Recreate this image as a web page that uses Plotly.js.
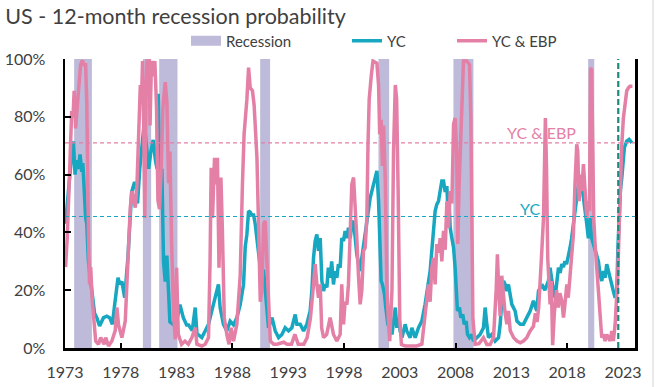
<!DOCTYPE html>
<html>
<head>
<meta charset="utf-8">
<script src="https://cdn.plot.ly/plotly-3.0.1.min.js"></script>
<style>html,body{margin:0;padding:0;background:#fff;}#chart{width:655px;height:387px;}</style>
</head>
<body>
<div id="chart"></div>
<script>
// ---- Data ----
const recessionStart = [1973.82, 1979.98, 1981.44, 1990.49, 2001.09, 2007.81, 2019.88];
const recessionEnd   = [1975.41, 1980.72, 1983.08, 1991.38, 2002.05, 2009.60, 2020.43];

const ycYears = [1973.05,1973.2,1973.4,1973.6,1973.75,1973.9,1974.05,1974.2,1974.35,1974.5,1974.6,1974.7,1974.85,1974.95,1975.1,1975.4,1975.65,1975.85,1976.1,1976.45,1976.75,1977.0,1977.25,1977.45,1977.75,1977.9,1978.1,1978.35,1978.65,1978.97,1979.2,1979.35,1979.5,1979.7,1979.9,1980.1,1980.3,1980.5,1980.7,1980.9,1981.1,1981.25,1981.35,1981.42,1981.53,1981.68,1981.83,1981.98,1982.13,1982.25,1982.4,1982.73,1983.02,1983.3,1983.6,1983.9,1984.07,1984.4,1984.67,1984.82,1985.26,1985.56,1985.86,1986.1,1986.3,1986.55,1986.75,1986.9,1987.2,1987.5,1987.8,1988.1,1988.4,1988.7,1989.0,1989.15,1989.3,1989.45,1989.6,1989.75,1989.9,1990.05,1990.2,1990.35,1990.5,1990.8,1990.94,1991.1,1991.24,1991.55,1991.84,1992.14,1992.44,1992.73,1993.03,1993.33,1993.63,1993.78,1994.08,1994.38,1994.67,1994.97,1995.12,1995.27,1995.42,1995.57,1995.72,1995.87,1996.02,1996.17,1996.3,1996.47,1996.6,1996.76,1996.9,1997.06,1997.2,1997.36,1997.5,1997.66,1997.8,1997.96,1998.1,1998.26,1998.4,1998.56,1998.7,1998.86,1999.0,1999.15,1999.3,1999.45,1999.6,1999.75,1999.9,2000.05,2000.2,2000.35,2000.5,2000.65,2000.8,2000.95,2001.1,2001.24,2001.33,2001.45,2001.63,2001.75,2001.93,2002.14,2002.3,2002.6,2002.74,2002.9,2003.03,2003.2,2003.48,2003.63,2003.93,2004.08,2004.38,2004.68,2004.98,2005.27,2005.57,2005.72,2005.87,2006.02,2006.17,2006.32,2006.47,2006.62,2006.77,2006.92,2007.07,2007.22,2007.28,2007.4,2007.52,2007.67,2007.82,2007.96,2008.05,2008.17,2008.35,2008.47,2008.65,2008.77,2008.95,2009.07,2009.25,2009.46,2009.6,2009.9,2010.2,2010.5,2010.65,2010.8,2010.95,2011.25,2011.55,2011.85,2012.0,2012.14,2012.3,2012.44,2012.6,2012.74,2012.9,2013.04,2013.34,2013.5,2013.8,2014.08,2014.38,2014.68,2014.98,2015.28,2015.43,2015.73,2016.0,2016.32,2016.47,2016.62,2016.77,2016.92,2017.07,2017.22,2017.37,2017.52,2017.67,2017.8,2017.95,2018.1,2018.26,2018.4,2018.56,2018.7,2018.86,2019.01,2019.16,2019.3,2019.46,2019.6,2019.76,2019.9,2020.05,2020.2,2020.35,2020.5,2020.65,2020.8,2020.95,2021.1,2021.25,2021.4,2021.55,2021.7,2021.85,2022.0,2022.14,2022.3,2022.45,2022.55,2022.65,2022.77,2022.9,2023.0,2023.13,2023.34,2023.55,2023.8];
const ycValues = [43,50,60,67,71.5,60,65,62,67,61,64,53,45,43,30,20,12,10.5,7.6,10.5,11,10.5,8.2,15,24.3,22,23,17.4,32,54,57,57,50,62,70,78,70,62,68,72,65,62,88,75,51,62,30,23,32,22,9,8,9.4,15,10.5,8,8,6,14,5,3.6,5.9,8.2,12,15,19,22,14,8.2,5.9,9.3,8,10.5,15,22,35,39.3,47.4,47,46,46,42.8,37,33.6,27.8,26.6,19.7,12.8,7,10.5,5.9,3.6,4.7,7,5.9,7,11.6,8.2,8.2,5.9,8.2,12.8,19.7,31.2,37,39.3,33.6,38,23.2,19.7,22,21,27.8,24.3,30,22,26.6,24.3,29,27.8,38,37,40.5,38,41.6,38,42.8,44,38,32.4,29,26.6,31.2,35.7,38,42.8,47.4,52,54.3,56.6,60,61.3,50.8,35.7,23.2,22,18.6,14,8.2,7,4.7,14,7,10.5,5.9,3.6,8.2,5.9,3.6,7,3.6,7,9.3,15.1,22,26.6,33.6,40.5,47.4,49.7,50.8,54.3,57.8,57.8,54,56,50.8,52,41.6,38,34.7,27.8,22,12.8,14,10.5,11.6,8.2,9.3,4.7,3.6,4.7,2.4,3.6,4.7,7,14,8.2,3.6,4.7,2.4,3.6,8.2,16.3,23.2,22,19.7,22,18.6,15.1,12.8,9.3,8.2,8.2,10.5,12.8,16.3,12.8,19.7,22,20,23.2,27.8,23,19.7,17.4,22,27.8,26,29,28,30,29,31.2,34.7,38,42.8,48.6,53,56.6,59,56.6,52,48.6,42.8,38,45,38,36,33.6,31.2,30,25.4,23.2,26.6,24.3,29,26.6,23.2,22,19.7,17.4,20,35,47.4,54.3,59,64.7,69.4,71.6,72.2,71];

const ebpYears = [1973.05,1973.2,1973.35,1973.5,1973.6,1973.72,1973.82,1973.95,1974.1,1974.25,1974.4,1974.55,1974.7,1974.85,1974.95,1975.0,1975.1,1975.2,1975.3,1975.45,1975.6,1975.75,1976.0,1976.2,1976.5,1976.65,1976.9,1977.2,1977.5,1977.65,1977.8,1978.1,1978.4,1978.7,1978.85,1979.0,1979.15,1979.3,1979.45,1979.6,1979.75,1979.85,1979.95,1980.05,1980.15,1980.25,1980.35,1980.55,1980.62,1980.75,1980.9,1981.05,1981.2,1981.33,1981.47,1981.6,1981.77,1981.98,1982.13,1982.28,1982.4,1982.55,1982.73,1982.88,1983.0,1983.15,1983.45,1983.75,1984.05,1984.37,1984.67,1984.82,1985.26,1985.56,1985.86,1986.0,1986.1,1986.22,1986.4,1986.55,1986.66,1986.8,1986.97,1987.1,1987.27,1987.5,1987.7,1987.88,1988.1,1988.4,1988.7,1988.9,1989.05,1989.3,1989.45,1989.6,1989.8,1989.95,1990.05,1990.2,1990.35,1990.5,1990.64,1990.8,1990.94,1991.1,1991.25,1991.4,1991.7,1992.0,1992.6,1992.9,1993.3,1993.6,1993.9,1994.4,1994.7,1995.0,1995.27,1995.42,1995.57,1995.72,1995.87,1996.0,1996.17,1996.45,1996.76,1997.06,1997.36,1997.66,1997.8,1997.96,1998.1,1998.26,1998.4,1998.56,1998.7,1998.86,1999.0,1999.15,1999.3,1999.45,1999.6,1999.75,1999.9,2000.05,2000.15,2000.26,2000.44,2000.6,2000.95,2001.1,2001.2,2001.33,2001.45,2001.55,2001.7,2001.85,2002.0,2002.1,2002.3,2002.44,2002.6,2002.72,2002.85,2003.0,2003.15,2003.5,2004.0,2004.5,2004.98,2005.27,2005.42,2005.57,2005.72,2005.87,2006.02,2006.17,2006.32,2006.47,2006.62,2006.77,2006.92,2007.07,2007.22,2007.37,2007.52,2007.67,2007.82,2007.96,2008.1,2008.2,2008.32,2008.47,2008.6,2008.71,2009.0,2009.25,2009.37,2009.46,2009.55,2009.75,2010.1,2010.5,2010.8,2011.1,2011.4,2011.64,2011.75,2011.87,2012.0,2012.14,2012.3,2012.44,2012.6,2012.74,2012.9,2013.2,2013.5,2013.8,2014.08,2014.38,2014.68,2014.98,2015.15,2015.3,2015.45,2015.6,2015.73,2015.88,2015.97,2016.05,2016.15,2016.26,2016.38,2016.47,2016.58,2016.7,2016.85,2017.05,2017.2,2017.35,2017.52,2017.67,2017.8,2017.97,2018.1,2018.26,2018.4,2018.56,2018.7,2018.86,2018.95,2019.07,2019.22,2019.31,2019.46,2019.6,2019.76,2019.9,2020.0,2020.1,2020.2,2020.3,2020.38,2020.5,2020.65,2020.8,2020.95,2021.1,2021.25,2021.4,2021.55,2021.7,2021.85,2022.0,2022.14,2022.3,2022.45,2022.53,2022.65,2022.77,2022.9,2023.04,2023.19,2023.34,2023.49,2023.64,2023.85];
const ebpValues = [28,38,54,68,82,80,89,76,82,91,98,99.5,98,98,85,65,40,22,28,16,7,2.4,1.3,3.6,1.3,3.6,0.7,2.4,6,14,8,3.6,9.3,33.6,48.6,54.3,50.8,48.6,56.6,74,91,85,99.3,77,45,85,99.3,99.3,77,99.3,94,99.3,83.5,51,48,60,83,92,85,57,68,37,11.6,3,27.8,4.8,1.3,2.4,1.3,3.6,7,1.3,0.7,1.3,3.6,30,62.4,45,65.8,56.6,65.8,27.8,59,41.6,10.5,4.7,1.3,7,2.4,8.2,25,56.6,74,86,97,90,89,84,75,66,41.6,16,20,43,44,28,10.5,2.4,1.3,1.3,2,1.3,1.3,4.7,1.3,1.3,3.6,10.5,22,29,22,17.4,22,7,3.6,4.7,10.5,4.7,2.4,4.7,22,8.2,16,15,22,40,56.6,59,50.8,38,25,15.1,20,33.6,34.7,45,70,86,94,99.3,98.5,91,74,79,63,77,58,20,8,2.4,20,68,91,86,55,10,1.2,0.7,0.7,0.7,1.3,10.5,15,22,16,27.8,31.2,22,36,33,38,30,40.5,34,50.8,41.6,54.3,50,77.4,79.6,68,36,56.6,74,91,99.3,99.3,98,79.6,40,10.5,1.3,1.5,3.6,1.2,1.2,3.5,20,32.4,20,11,25,17,12,8.2,12.8,6,3.6,2.4,1.8,2.4,3.6,5.9,7.5,12,9,14,23,33.6,45,69,79.6,62.4,31,22,15.1,23.2,1,12,20,14,19,16.3,10.5,15,22,17.4,24.3,33.6,39.3,56.6,70.5,68,50.8,60,54.3,63.6,54.3,45,50.8,47.4,97,96,68,45,36,27.8,22,10.5,3.6,4.7,2.4,4.7,3.6,2.4,5.9,2.4,8.2,16.3,24.3,40.4,56.6,70.5,79.6,85.5,89,90,90.6,90.6];

const thresholdYC = 45.5;
const thresholdEBP = 71;
const forecastStart = 2022.58;

const xTickLabels = ['1973','1978','1983','1988','1993','1998','2003','2008','2013','2018','2023'];
const xMajorTicks = [1978, 1988, 1998, 2008, 2018];
const yTickVals = [0, 20, 40, 60, 80, 100];
const seriesNames = ['Recession', 'YC', 'YC & EBP'];

// ---- Styles ----
const C_TEAL = '#17a7c1';
const C_PINK = '#e47fa6';
const C_BAND = '#bdbbd9';
const C_DARKTEAL = '#1e8a80';
const C_TEXT = '#404040';
const FONT = 'Lato, "Open Sans", sans-serif';

// recession band polygons built from start/end arrays
const bandX = [], bandY = [];
recessionStart.forEach((s, i) => {
  const e = recessionEnd[i];
  bandX.push(s, s, e, e, s, null);
  bandY.push(0, 100, 100, 0, 0, null);
});

const traces = [
  {x: bandX, y: bandY, type: 'scatter', mode: 'lines', fill: 'toself', fillcolor: C_BAND,
   line: {width: 0, color: C_BAND}, showlegend: false, hoverinfo: 'skip'},
  {x: [null], y: [null], type: 'scatter', mode: 'lines', name: seriesNames[0],
   line: {color: C_BAND, width: 10}, legend: 'legend'},
  {x: ycYears, y: ycValues, type: 'scatter', mode: 'lines', name: seriesNames[1],
   line: {color: C_TEAL, width: 3.5}, legend: 'legend2'},
  {x: ebpYears, y: ebpValues, type: 'scatter', mode: 'lines', name: seriesNames[2],
   line: {color: C_PINK, width: 3.5}, legend: 'legend3'},
  // invisible trace to activate the secondary axes (tick marks)
  {x: [1973], y: [0], xaxis: 'x2', yaxis: 'y2', type: 'scatter', mode: 'markers',
   marker: {opacity: 0}, showlegend: false, hoverinfo: 'skip'}
];

const xRange = [1973, 2024.08];
const legendCommon = {orientation: 'h', y: 1.062, yanchor: 'middle', xanchor: 'left',
  bgcolor: 'rgba(0,0,0,0)', font: {family: FONT, size: 15, color: C_TEXT}};

const layout = {
  width: 655, height: 387,
  margin: {l: 65, r: 20, t: 59, b: 39},
  paper_bgcolor: '#ffffff', plot_bgcolor: '#ffffff',
  font: {family: FONT, color: C_TEXT},
  title: {text: 'US - 12-month recession probability', xref: 'container', yref: 'container',
          x: 0.008, xanchor: 'left', y: 0.978, yanchor: 'top',
          font: {family: FONT, size: 21.5, color: C_TEXT}},
  xaxis: {range: xRange, tickvals: xTickLabels.map(Number), ticktext: xTickLabels,
          ticks: '', showgrid: false, zeroline: false, showline: true, linecolor: '#000000',
          linewidth: 2.5, tickfont: {family: FONT, size: 16, color: C_TEXT}, ticklabelstandoff: 8},
  xaxis2: {range: xRange, overlaying: 'x', side: 'bottom', tickvals: xMajorTicks,
           ticks: 'inside', ticklen: 5, tickwidth: 2, tickcolor: '#000000',
           showticklabels: false, showgrid: false, zeroline: false, showline: false, anchor: 'y'},
  yaxis: {range: [0, 100], tickvals: yTickVals, ticktext: yTickVals.map(v => v + '%'),
          ticks: 'inside', ticklen: 6, tickwidth: 2, tickcolor: '#000000',
          showgrid: false, zeroline: false, showline: true, linecolor: '#000000', linewidth: 2.5,
          tickfont: {family: FONT, size: 16, color: C_TEXT}, ticklabelstandoff: 14},
  yaxis2: {range: [0, 100], overlaying: 'y', side: 'right', anchor: 'x', tickvals: [100],
           ticks: 'inside', ticklen: 7, tickwidth: 2, tickcolor: '#000000',
           showticklabels: false, showgrid: false, zeroline: false, showline: true,
           linecolor: '#000000', linewidth: 2.5},
  legend: Object.assign({}, legendCommon, {x: (186 - 65) / 570}),
  legend2: Object.assign({}, legendCommon, {x: (347 - 65) / 570}),
  legend3: Object.assign({}, legendCommon, {x: (452 - 65) / 570}),
  shapes: [
    {type: 'line', xref: 'paper', x0: 0, x1: 1, yref: 'y', y0: thresholdEBP, y1: thresholdEBP,
     line: {color: C_PINK, width: 1.2, dash: '4px,3px'}},
    {type: 'line', xref: 'paper', x0: 0, x1: 1, yref: 'y', y0: thresholdYC, y1: thresholdYC,
     line: {color: C_TEAL, width: 1.2, dash: '4px,3px'}},
    {type: 'line', xref: 'x', x0: forecastStart, x1: forecastStart, yref: 'y', y0: 0, y1: 100,
     line: {color: C_DARKTEAL, width: 2.2, dash: '6px,3px'}},
    {type: 'line', xref: 'paper', x0: 1.0316, x1: 1.0316, yref: 'paper', y0: -0.2, y1: 1.25,
     line: {color: '#d4d4d4', width: 1}}
  ],
  annotations: [
    {x: 2015.72, y: 74.7, xref: 'x', yref: 'y', text: 'YC & EBP', showarrow: false,
     font: {family: FONT, size: 16, color: C_PINK}, xanchor: 'center', yanchor: 'middle'},
    {x: 2014.67, y: 48.4, xref: 'x', yref: 'y', text: 'YC', showarrow: false,
     font: {family: FONT, size: 16, color: C_TEAL}, xanchor: 'center', yanchor: 'middle'}
  ],
  hovermode: false
};

Plotly.newPlot('chart', traces, layout, {displayModeBar: false, staticPlot: true});
</script>
</body>
</html>
